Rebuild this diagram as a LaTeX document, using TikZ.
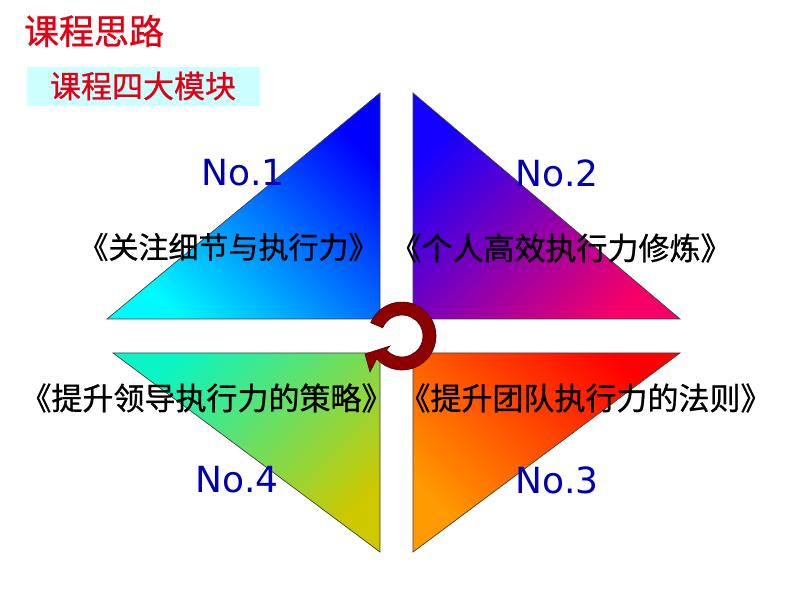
\documentclass[tikz,border=0pt]{standalone}
\usepackage{fontspec}
\newfontfamily\cjk[FakeBold=0.8]{Noto Sans CJK SC}
\newfontfamily\numfont{DejaVu Sans}
\definecolor{titlered}{RGB}{228,0,20}
\definecolor{boxcyan}{RGB}{204,255,255}
\definecolor{numblue}{RGB}{0,0,175}
\definecolor{arrowred}{RGB}{140,0,0}
\definecolor{arrowdark}{RGB}{80,0,0}
\definecolor{tcyan}{RGB}{0,250,255}
\definecolor{tblue}{RGB}{0,0,255}
\definecolor{tblueb}{RGB}{20,0,255}
\definecolor{tmag}{RGB}{245,0,105}
\definecolor{tred}{RGB}{255,0,0}
\definecolor{torange}{RGB}{255,155,0}
\definecolor{tmint}{RGB}{10,245,195}
\definecolor{tolive}{RGB}{205,200,0}
\begin{document}
\begin{tikzpicture}[x=1pt,y=1pt,
  tri/.style={draw=black!75, line width=0.7pt},
  numtxt/.style={text=numblue, font=\numfont\fontsize{36}{40}\selectfont, inner sep=0pt},
  cntxt/.style={text=black, font=\cjk\fontsize{31}{36}\selectfont, inner sep=0pt},
  titletxt/.style={text=titlered, font=\cjk\fontsize{35}{40}\selectfont, inner sep=0pt},
  subtxt/.style={text=titlered, font=\cjk\fontsize{31}{36}\selectfont, inner sep=0pt}]
\useasboundingbox (0,0) rectangle (800,600);
\fill[white] (0,0) rectangle (800,600);
% title
\node[titletxt] (title) at (94,569) {课程思路};
\fill[boxcyan] (27,494) rectangle (260,533);
\node[subtxt] (sub) at (143,514) {课程四大模块};
% triangles
\shadedraw[tri, top color=tblue, bottom color=tcyan, shading angle=-45]
  (380,507) -- (107,281) -- (380,281) -- cycle;
\shadedraw[tri, top color=tblueb, bottom color=tmag, shading angle=45]
  (413,507) -- (413,281) -- (680,281) -- cycle;
\shadedraw[tri, top color=tred, bottom color=torange, shading angle=-45]
  (413,247) -- (680,247) -- (413,48) -- cycle;
\shadedraw[tri, top color=tmint, bottom color=tolive, shading angle=45]
  (113,247) -- (380,247) -- (380,48) -- cycle;
% circular arrow
\filldraw[fill=arrowred, draw=arrowdark, line width=0.6pt]
  (365,246) -- (370,228) -- ({402+34*cos(222)},{264+34*sin(222)})
  arc[start angle=222, end angle=517, radius=34]
  -- ({402+21*cos(157)},{264+21*sin(157)})
  arc[start angle=157, end angle=-138, radius=21]
  -- (390,254) -- cycle;
% numbers
\node[numtxt] (n1) at (243,427) {No.1};
\node[numtxt] (n2) at (557,427) {No.2};
\node[numtxt] (n3) at (557,120) {No.3};
\node[numtxt] (n4) at (237,120) {No.4};
% labels
\node[cntxt, font=\cjk\fontsize{30}{36}\selectfont] (l1) at (228.5,353) {《关注细节与执行力》};
\node[cntxt] (l2) at (561,352) {《个人高效执行力修炼》};
\node[cntxt] (l3) at (585.5,202) {《提升团队执行力的法则》};
\node[cntxt] (l4) at (206.5,202) {《提升领导执行力的策略》};
\end{tikzpicture}
\end{document}
